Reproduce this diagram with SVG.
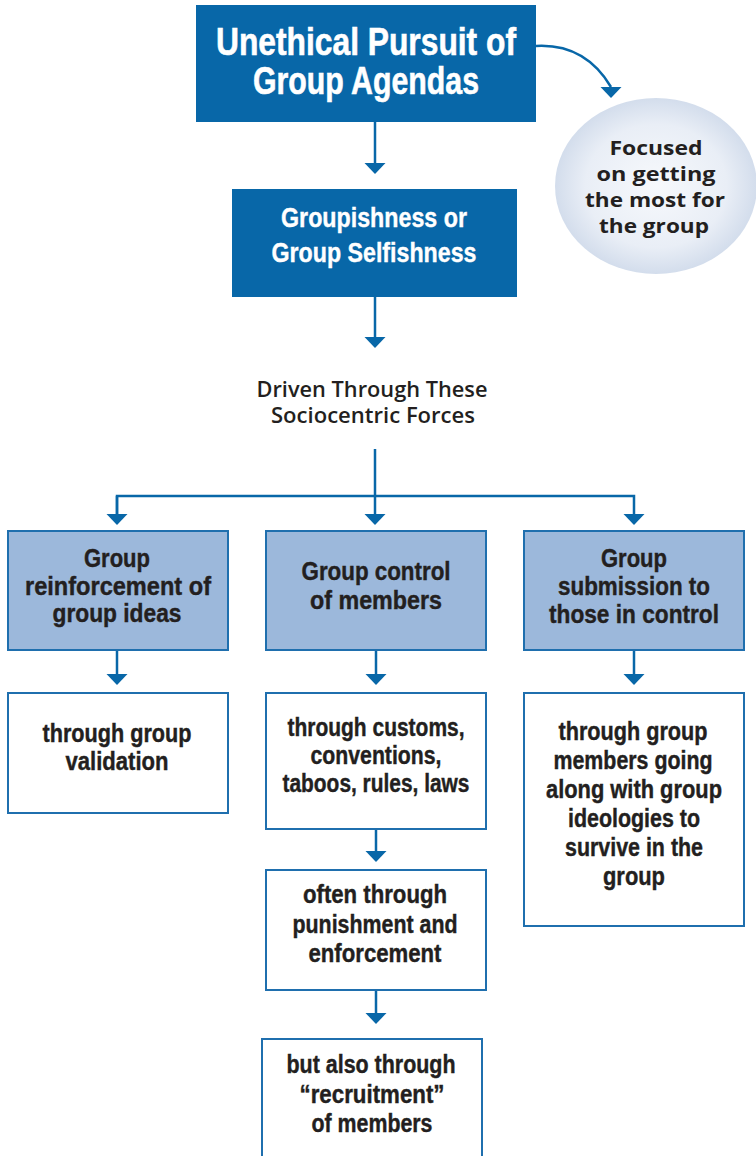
<svg xmlns="http://www.w3.org/2000/svg" width="756" height="1156" viewBox="0 0 756 1156">
  <defs>
    <style>
      .dark { fill: #0867a8; }
      .cat { fill: #9cb8db; stroke: #1f6fae; stroke-width: 2; }
      .plain { fill: #ffffff; stroke: #1f6fae; stroke-width: 2; }
      .cond { font-family: "Liberation Sans", Arial, sans-serif; font-weight: bold; text-anchor: middle; }
      .head { font-size: 39px; fill: #ffffff; stroke: #ffffff; stroke-width: 0.6; }
      .sub { font-size: 28px; fill: #ffffff; stroke: #ffffff; stroke-width: 0.4; }
      .body { font-size: 25px; fill: #231f20; stroke: #231f20; stroke-width: 0.4; }
      .soft { font-family: "Open Sans", "Liberation Sans", sans-serif; font-weight: 600; text-anchor: middle; fill: #231f20; }
      .bubble-text { font-weight: 700; font-size: 20px; }
      .link { fill: none; stroke: #0867a8; stroke-width: 2.5; }
    </style>
    <marker id="head" markerUnits="userSpaceOnUse" markerWidth="12" markerHeight="22" refX="0" refY="10.5" orient="auto" overflow="visible">
      <path d="M0,0 L11,10.5 L0,21 z" fill="#0867a8"/>
    </marker>
    <marker id="headDown" markerUnits="userSpaceOnUse" markerWidth="12" markerHeight="22" refX="0" refY="10.5" orient="90" overflow="visible">
      <path d="M0,0 L11,10.5 L0,21 z" fill="#0867a8"/>
    </marker>
    <radialGradient id="bubble" cx="50%" cy="50%" r="50%">
      <stop offset="0%" stop-color="#f7f9fc"/>
      <stop offset="70%" stop-color="#e9eef6"/>
      <stop offset="100%" stop-color="#d3ddec"/>
    </radialGradient>
  </defs>

  <!-- connectors -->
  <g id="connectors">
    <path class="link" d="M536,46 C572,44 596,62 611,87" marker-end="url(#headDown)"/>
    <path class="link" d="M375,122 L375,163" marker-end="url(#head)"/>
    <path class="link" d="M375,297 L375,337" marker-end="url(#head)"/>
    <path class="link" d="M375,449 L375,514" marker-end="url(#head)"/>
    <path class="link" d="M117,514 L117,496 L634,496 L634,514" marker-end="url(#head)"/>
    <path class="link" d="M117,496 L117,514" marker-end="url(#head)"/>
    <path class="link" d="M117,650 L117,674" marker-end="url(#head)"/>
    <path class="link" d="M376,650 L376,674" marker-end="url(#head)"/>
    <path class="link" d="M634,650 L634,674" marker-end="url(#head)"/>
    <path class="link" d="M376,829 L376,851" marker-end="url(#head)"/>
    <path class="link" d="M376,990 L376,1013" marker-end="url(#head)"/>
  </g>

  <!-- top statement -->
  <g id="agendas">
    <rect class="dark" x="196" y="5" width="340" height="117"/>
    <text class="cond head" x="366" y="55" textLength="300" lengthAdjust="spacingAndGlyphs">Unethical Pursuit of</text>
    <text class="cond head" x="366" y="94" textLength="226" lengthAdjust="spacingAndGlyphs">Group Agendas</text>
  </g>

  <!-- side bubble -->
  <g id="focus">
    <ellipse cx="656" cy="186" rx="101" ry="88" fill="url(#bubble)"/>
    <text class="soft bubble-text" x="656" y="155" textLength="93" lengthAdjust="spacingAndGlyphs">Focused</text>
    <text class="soft bubble-text" x="656" y="181" textLength="119" lengthAdjust="spacingAndGlyphs">on getting</text>
    <text class="soft bubble-text" x="655" y="207" textLength="140" lengthAdjust="spacingAndGlyphs">the most for</text>
    <text class="soft bubble-text" x="654" y="233" textLength="110" lengthAdjust="spacingAndGlyphs">the group</text>
  </g>

  <!-- second statement -->
  <g id="selfishness">
    <rect class="dark" x="232" y="189" width="285" height="108"/>
    <text class="cond sub" x="374" y="227" textLength="186" lengthAdjust="spacingAndGlyphs">Groupishness or</text>
    <text class="cond sub" x="374" y="262" textLength="205" lengthAdjust="spacingAndGlyphs">Group Selfishness</text>
  </g>

  <!-- caption -->
  <g id="forces">
    <text class="soft" x="372" y="397" font-size="21" textLength="231" lengthAdjust="spacingAndGlyphs">Driven Through These</text>
    <text class="soft" x="373" y="423" font-size="21" textLength="204" lengthAdjust="spacingAndGlyphs">Sociocentric Forces</text>
  </g>

  <!-- left column -->
  <g id="reinforcement">
    <rect class="cat" x="8" y="531" width="220" height="119"/>
    <text class="cond body" x="117" y="567" textLength="66" lengthAdjust="spacingAndGlyphs">Group</text>
    <text class="cond body" x="118" y="595" textLength="186" lengthAdjust="spacingAndGlyphs">reinforcement of</text>
    <text class="cond body" x="117" y="622" textLength="129" lengthAdjust="spacingAndGlyphs">group ideas</text>
  </g>
  <g id="validation">
    <rect class="plain" x="8" y="693" width="220" height="120"/>
    <text class="cond body" x="117" y="742" textLength="149" lengthAdjust="spacingAndGlyphs">through group</text>
    <text class="cond body" x="117" y="770" textLength="103" lengthAdjust="spacingAndGlyphs">validation</text>
  </g>

  <!-- centre column -->
  <g id="control">
    <rect class="cat" x="266" y="531" width="220" height="119"/>
    <text class="cond body" x="376" y="580" textLength="149" lengthAdjust="spacingAndGlyphs">Group control</text>
    <text class="cond body" x="376" y="609" textLength="132" lengthAdjust="spacingAndGlyphs">of members</text>
  </g>
  <g id="customs">
    <rect class="plain" x="266" y="693" width="220" height="136"/>
    <text class="cond body" x="376" y="736" textLength="177" lengthAdjust="spacingAndGlyphs">through customs,</text>
    <text class="cond body" x="376" y="764" textLength="131" lengthAdjust="spacingAndGlyphs">conventions,</text>
    <text class="cond body" x="376" y="792" textLength="187" lengthAdjust="spacingAndGlyphs">taboos, rules, laws</text>
  </g>
  <g id="punishment">
    <rect class="plain" x="266" y="870" width="220" height="120"/>
    <text class="cond body" x="375" y="903" textLength="144" lengthAdjust="spacingAndGlyphs">often through</text>
    <text class="cond body" x="375" y="933" textLength="165" lengthAdjust="spacingAndGlyphs">punishment and</text>
    <text class="cond body" x="375" y="962" textLength="133" lengthAdjust="spacingAndGlyphs">enforcement</text>
  </g>
  <g id="recruitment">
    <rect class="plain" x="262" y="1039" width="220" height="130"/>
    <text class="cond body" x="371" y="1073" textLength="169" lengthAdjust="spacingAndGlyphs">but also through</text>
    <text class="cond body" x="372" y="1103" textLength="145" lengthAdjust="spacingAndGlyphs">“recruitment”</text>
    <text class="cond body" x="372" y="1132" textLength="121" lengthAdjust="spacingAndGlyphs">of members</text>
  </g>

  <!-- right column -->
  <g id="submission">
    <rect class="cat" x="524" y="531" width="220" height="119"/>
    <text class="cond body" x="634" y="567" textLength="66" lengthAdjust="spacingAndGlyphs">Group</text>
    <text class="cond body" x="634" y="595" textLength="152" lengthAdjust="spacingAndGlyphs">submission to</text>
    <text class="cond body" x="634" y="623" textLength="170" lengthAdjust="spacingAndGlyphs">those in control</text>
  </g>
  <g id="ideologies">
    <rect class="plain" x="524" y="693" width="220" height="233"/>
    <text class="cond body" x="633" y="740" textLength="149" lengthAdjust="spacingAndGlyphs">through group</text>
    <text class="cond body" x="633" y="769" textLength="159" lengthAdjust="spacingAndGlyphs">members going</text>
    <text class="cond body" x="634" y="798" textLength="176" lengthAdjust="spacingAndGlyphs">along with group</text>
    <text class="cond body" x="634" y="827" textLength="132" lengthAdjust="spacingAndGlyphs">ideologies to</text>
    <text class="cond body" x="634" y="856" textLength="138" lengthAdjust="spacingAndGlyphs">survive in the</text>
    <text class="cond body" x="634" y="885" textLength="62" lengthAdjust="spacingAndGlyphs">group</text>
  </g>
</svg>
